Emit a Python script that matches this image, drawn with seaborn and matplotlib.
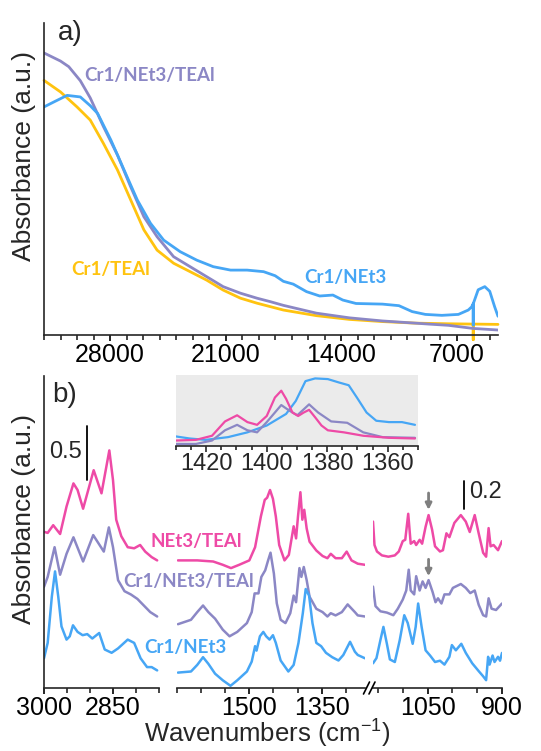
import numpy as np
import pandas as pd
import matplotlib
matplotlib.use("Agg")
import matplotlib.pyplot as plt
from matplotlib.lines import Line2D
from matplotlib.ticker import MultipleLocator, FixedLocator
import seaborn as sns

# ---------------- Panel a (UV-Vis-NIR) ----------------
a_purple_x = [32000, 31000, 30500, 29800, 29200, 28400, 27550, 26750, 25950, 25150, 24150, 23150, 22150,
              21150, 20100, 19100, 18300, 17500, 15500, 13500, 11500, 9500, 8700, 7500, 6000, 4500]
a_purple_y = [0.904, 0.878, 0.860, 0.815, 0.760, 0.668, 0.577, 0.475, 0.379, 0.315, 0.251, 0.219, 0.187,
              0.155, 0.134, 0.118, 0.107, 0.095, 0.070, 0.055, 0.045, 0.038, 0.035, 0.031, 0.021, 0.016]

a_yellow_x = [32000, 31000, 30000, 29200, 28400, 27550, 26750, 25950, 25150, 24150, 23150, 22150, 21150,
              20100, 19100, 18300, 17500, 15500, 13500, 11500, 9500, 7500, 6050, 6000, 6000, 6000, 4500]
a_yellow_y = [0.816, 0.779, 0.731, 0.689, 0.614, 0.529, 0.433, 0.337, 0.272, 0.230, 0.203, 0.176, 0.144,
              0.118, 0.102, 0.091, 0.080, 0.062, 0.050, 0.043, 0.038, 0.036, 0.035, 0.035, -0.015, 0.035, 0.034]

a_blue_x = [32000, 31400, 30600, 29800, 29200, 28750, 27950, 27150, 26350, 25550, 24750, 23750, 22750,
            21750, 20700, 19700, 18700, 18000, 17500, 16900, 16100, 15300, 14500, 13900, 13100, 11500,
            10500, 9700, 8900, 7900, 6900, 6300, 6100, 6000, 6000, 6000, 5700, 5300, 5000, 4700, 4500]
a_blue_y = [0.731, 0.747, 0.768, 0.763, 0.735, 0.710, 0.625, 0.529, 0.433, 0.358, 0.304, 0.267, 0.240,
            0.219, 0.208, 0.208, 0.203, 0.190, 0.172, 0.163, 0.139, 0.125, 0.128, 0.112, 0.101, 0.099,
            0.094, 0.075, 0.066, 0.063, 0.066, 0.080, 0.090, 0.100, 0.032, 0.100, 0.145, 0.155, 0.140, 0.090, 0.060]

a_ticks = [28000, 21000, 14000, 7000]

# ---------------- Panel b (IR), segment 1: 3000-2750 ----------------
s1_pink_x = [3000, 2992, 2980, 2965, 2951, 2936, 2927, 2915, 2892, 2875, 2858, 2850, 2843, 2832, 2818,
             2804, 2791, 2780, 2766, 2754]
s1_pink_y = [1.42, 1.41, 1.48, 1.40, 1.65, 1.86, 1.80, 1.63, 1.98, 1.77, 2.16, 1.89, 1.53, 1.38, 1.28,
             1.27, 1.30, 1.24, 1.19, 1.16]
s1_purple_x = [3000, 2992, 2977, 2965, 2951, 2936, 2915, 2893, 2870, 2859, 2850, 2839, 2825, 2811, 2797,
               2783, 2769, 2754]
s1_purple_y = [0.92, 1.01, 1.28, 1.03, 1.22, 1.37, 1.15, 1.39, 1.24, 1.46, 1.28, 0.98, 0.88, 0.85, 0.81,
               0.75, 0.69, 0.65]
s1_blue_x = [3000, 2992, 2983, 2976, 2969, 2962, 2951, 2944, 2937, 2927, 2916, 2906, 2895, 2880, 2868,
             2853, 2839, 2818, 2804, 2790, 2776, 2766, 2754]
s1_blue_y = [0.27, 0.41, 0.83, 1.06, 0.83, 0.56, 0.44, 0.47, 0.57, 0.51, 0.48, 0.49, 0.45, 0.50, 0.35,
             0.32, 0.36, 0.44, 0.41, 0.27, 0.19, 0.19, 0.16]

# ---------------- segment 2: 1650-1260 ----------------
s2_pink_x = [1648, 1608, 1575, 1555, 1538, 1521, 1500, 1488, 1476, 1468, 1463, 1457, 1451, 1445, 1438,
             1427, 1418, 1408, 1403, 1399, 1394, 1390, 1386, 1381, 1375, 1361, 1348, 1338, 1331, 1321,
             1308, 1298, 1288, 1275, 1260]
s2_pink_y = [1.16, 1.16, 1.15, 1.12, 1.09, 1.12, 1.16, 1.28, 1.56, 1.71, 1.73, 1.80, 1.72, 1.56, 1.30,
             1.16, 1.21, 1.47, 1.36, 1.56, 1.78, 1.53, 1.62, 1.45, 1.33, 1.25, 1.20, 1.18, 1.22, 1.18,
             1.18, 1.24, 1.16, 1.13, 1.12]
s2_purple_x = [1648, 1621, 1608, 1596, 1585, 1571, 1555, 1541, 1525, 1505, 1495, 1489, 1481, 1475, 1467,
               1461, 1456, 1449, 1443, 1435, 1425, 1415, 1408, 1403, 1396, 1392, 1387, 1381, 1375, 1361,
               1348, 1338, 1331, 1321, 1308, 1296, 1281, 1275, 1260]
s2_purple_y = [0.58, 0.62, 0.69, 0.75, 0.69, 0.63, 0.53, 0.47, 0.51, 0.59, 0.69, 0.86, 0.86, 1.01, 1.07,
               1.16, 1.23, 1.04, 0.77, 0.62, 0.59, 0.68, 0.84, 0.78, 1.09, 1.01, 1.10, 0.98, 0.83, 0.72,
               0.69, 0.65, 0.68, 0.66, 0.69, 0.76, 0.69, 0.66, 0.65]
s2_blue_x = [1648, 1621, 1608, 1596, 1585, 1571, 1555, 1539, 1525, 1505, 1495, 1488, 1485, 1478, 1471,
             1465, 1458, 1451, 1445, 1435, 1419, 1408, 1398, 1389, 1383, 1376, 1369, 1361, 1351, 1341,
             1328, 1315, 1305, 1291, 1281, 1275, 1260]
s2_blue_y = [0.14, 0.15, 0.21, 0.28, 0.22, 0.13, 0.07, 0.02, 0.07, 0.15, 0.24, 0.38, 0.34, 0.47, 0.51,
             0.47, 0.44, 0.48, 0.41, 0.25, 0.15, 0.21, 0.41, 0.68, 0.90, 0.84, 0.59, 0.41, 0.38, 0.32,
             0.28, 0.25, 0.30, 0.42, 0.33, 0.30, 0.27]

# ---------------- segment 3: 1160-900 ----------------
s3_pink_x = [1160, 1157, 1152, 1142, 1129, 1116, 1108, 1100, 1095, 1089, 1084, 1077, 1073, 1066, 1061,
             1054, 1048, 1041, 1035, 1025, 1019, 1012, 1006, 996, 983, 973, 965, 955, 947, 938, 932, 927,
             923, 917, 908, 900]
s3_pink_y = [1.28, 1.10, 1.05, 1.02, 1.01, 1.02, 1.05, 1.13, 1.14, 1.34, 1.11, 1.13, 1.10, 1.14, 1.11,
             1.24, 1.33, 1.22, 1.09, 1.05, 1.06, 1.19, 1.16, 1.27, 1.33, 1.28, 1.20, 1.33, 1.19, 1.04,
             1.01, 1.23, 1.09, 1.10, 1.06, 1.13]
s3_purple_x = [1160, 1155, 1145, 1132, 1119, 1110, 1100, 1093, 1088, 1084, 1077, 1073, 1066, 1060, 1054,
               1048, 1040, 1034, 1029, 1022, 1016, 1006, 999, 983, 973, 964, 955, 947, 938, 932, 927,
               921, 912, 900]
s3_purple_y = [0.78, 0.63, 0.59, 0.58, 0.56, 0.61, 0.68, 0.75, 0.91, 0.75, 0.72, 0.86, 0.75, 0.82, 0.77,
               0.83, 0.74, 0.66, 0.69, 0.65, 0.72, 0.72, 0.77, 0.80, 0.77, 0.73, 0.75, 0.64, 0.56, 0.55,
               0.69, 0.61, 0.60, 0.65]
s3_blue_x = [1160, 1153, 1145, 1139, 1132, 1126, 1116, 1106, 1097, 1090, 1080, 1074, 1069, 1062, 1054,
             1045, 1035, 1025, 1016, 1006, 1001, 993, 982, 973, 960, 947, 938, 932, 928, 925, 919, 915,
             908, 904, 900]
s3_blue_y = [0.19, 0.23, 0.37, 0.47, 0.34, 0.22, 0.20, 0.37, 0.56, 0.50, 0.34, 0.47, 0.65, 0.47, 0.29,
             0.25, 0.20, 0.21, 0.18, 0.24, 0.33, 0.29, 0.34, 0.27, 0.19, 0.13, 0.09, 0.06, 0.24, 0.18,
             0.25, 0.20, 0.24, 0.21, 0.27]

# ---------------- inset: 1430-1350 (normalised) ----------------
in_pink_x = [1430, 1423.4, 1418.1, 1413.8, 1409.8, 1406.4, 1403.2, 1400, 1397.3, 1395.2, 1393.6, 1391.5,
             1389.6, 1387.8, 1386, 1384, 1381.9, 1379.8, 1374.5, 1368.1, 1359.6, 1351]
in_pink_y = [0.08, 0.09, 0.15, 0.36, 0.45, 0.35, 0.31, 0.44, 0.71, 0.81, 0.69, 0.49, 0.44, 0.49, 0.53,
             0.42, 0.30, 0.23, 0.20, 0.15, 0.12, 0.11]
in_purple_x = [1430, 1423.4, 1418.1, 1413.8, 1409.8, 1406.4, 1403.2, 1400, 1395.2, 1392.6, 1389.9, 1386,
               1383, 1378.7, 1373.4, 1368.1, 1361.7, 1351]
in_purple_y = [0.03, 0.03, 0.08, 0.23, 0.31, 0.23, 0.20, 0.35, 0.60, 0.52, 0.45, 0.61, 0.49, 0.36, 0.34,
               0.20, 0.13, 0.12]
in_blue_x = [1430, 1425.5, 1420.2, 1412.8, 1406.4, 1400, 1393.6, 1390.4, 1387.2, 1384, 1379.8, 1376.1,
             1372.9, 1370.2, 1367, 1363.8, 1359.6, 1355.3, 1351]
in_blue_y = [0.14, 0.11, 0.09, 0.13, 0.20, 0.30, 0.47, 0.66, 0.95, 0.99, 0.98, 0.93, 0.89, 0.71, 0.49,
             0.37, 0.35, 0.35, 0.31]
in_ticks = [1420, 1400, 1380, 1360]

PINK = "#EE4AA6"
PURPLE = "#8B87C5"
BLUE = "#46A6F5"
YELLOW = "#FFC30F"
GREY = "#7F7F7F"

sns.set_style("ticks")
plt.rcParams["font.family"] = ["Liberation Sans", "DejaVu Sans"]
plt.rcParams["mathtext.fontset"] = "custom"
plt.rcParams["mathtext.rm"] = "Liberation Sans"
plt.rcParams["mathtext.it"] = "Liberation Sans:italic"
plt.rcParams["axes.linewidth"] = 1.2

W, H = 541, 751
fig = plt.figure(figsize=(W / 100, H / 100), dpi=100)


def box(l, t, r, b):
    return [l / W, 1 - b / H, (r - l) / W, (b - t) / H]


def fx(px):
    return px / W


def fy(py):
    return 1 - py / H


def draw(ax, x, y, color, lw):
    df = pd.DataFrame({"x": x, "y": y})
    sns.lineplot(data=df, x="x", y="y", ax=ax, color=color, lw=lw, sort=False, estimator=None)
    return ax.lines[-1]


def style(ax, left=True, fs=18):
    for s in ["top", "right"]:
        ax.spines[s].set_visible(False)
    ax.spines["left"].set_visible(left)
    ax.tick_params(axis="y", left=False, labelleft=False)
    ax.tick_params(axis="x", which="major", direction="out", length=4.5, width=1.2,
                   labelsize=fs, pad=1, colors="black")
    ax.tick_params(axis="x", which="minor", direction="out", length=3.5, width=1.2)
    ax.set_xlabel("")
    ax.set_ylabel("")
    ax.set_facecolor("none")


# ---------- panel a ----------
ax_a = fig.add_axes(box(44, 23, 498, 335))
draw(ax_a, a_yellow_x, a_yellow_y, YELLOW, 2.0).set_clip_on(False)
draw(ax_a, a_purple_x, a_purple_y, PURPLE, 2.0)
draw(ax_a, a_blue_x, a_blue_y, BLUE, 2.0)
ax_a.set_xlim(32000, 4500)
ax_a.set_ylim(0, 1)
style(ax_a)
ax_a.xaxis.set_major_locator(FixedLocator(a_ticks))
ax_a.xaxis.set_minor_locator(MultipleLocator(1000))
ax_a.set_ylabel("Absorbance (a.u.)", fontsize=19)
ax_a.yaxis.set_label_coords(-0.018, 0.574)

lab = dict(fontfamily=["Lato", "DejaVu Sans"], fontweight="bold", fontsize=13.5, va="center", ha="left")
fig.text(fx(84), fy(75), "Cr1/NEt3/TEAl", color=PURPLE, **lab)
fig.text(fx(71), fy(270), "Cr1/TEAl", color=YELLOW, **lab)
fig.text(fx(304), fy(277), "Cr1/NEt3", color=BLUE, **lab)
fig.text(fx(58), fy(33), "a)", fontsize=20, va="center", ha="left")

# ---------- panel b ----------
yl12 = 312 / 110
yl3 = 312 / 130

ax1 = fig.add_axes(box(44, 376, 159, 688))
draw(ax1, s1_pink_x, s1_pink_y, PINK, 1.8)
draw(ax1, s1_purple_x, s1_purple_y, PURPLE, 1.8)
draw(ax1, s1_blue_x, s1_blue_y, BLUE, 1.8)
ax1.set_xlim(3000, 2750)
ax1.set_ylim(0, yl12)
style(ax1)
ax1.xaxis.set_major_locator(FixedLocator([3000, 2850]))
ax1.xaxis.set_minor_locator(MultipleLocator(50))
ax1.set_ylabel("Absorbance (a.u.)", fontsize=19)
ax1.yaxis.set_label_coords(-0.07, 0.542)
ax1.plot([2907, 2907], [1.89, 2.38], color="black", lw=1.3)
ax1.text(2917, 2.15, "0.5", fontsize=17, ha="right", va="center")

ax2 = fig.add_axes(box(177, 376, 365, 688))
draw(ax2, s2_pink_x, s2_pink_y, PINK, 1.8)
draw(ax2, s2_purple_x, s2_purple_y, PURPLE, 1.8)
draw(ax2, s2_blue_x, s2_blue_y, BLUE, 1.8)
ax2.set_xlim(1650, 1260)
ax2.set_ylim(0, yl12)
style(ax2, left=False)
ax2.xaxis.set_major_locator(FixedLocator([1500, 1350]))
ax2.xaxis.set_minor_locator(MultipleLocator(50))

ax3 = fig.add_axes(box(373, 376, 502, 688))
draw(ax3, s3_pink_x, s3_pink_y, PINK, 1.8)
draw(ax3, s3_purple_x, s3_purple_y, PURPLE, 1.8)
draw(ax3, s3_blue_x, s3_blue_y, BLUE, 1.8)
ax3.set_xlim(1160, 900)
ax3.set_ylim(0, yl3)
style(ax3, left=False)
ax3.xaxis.set_major_locator(FixedLocator([1050, 900]))
ax3.xaxis.set_minor_locator(MultipleLocator(50))
ax3.plot([977, 977], [1.38, 1.59], color="black", lw=1.3)
ax3.text(966, 1.51, "0.2", fontsize=17, ha="left", va="center")
for y0, y1 in [(1.50, 1.37), (0.99, 0.86)]:
    ax3.annotate("", xy=(1048, y1), xytext=(1048, y0),
                 arrowprops=dict(arrowstyle="-|>", color=GREY, lw=2.0, mutation_scale=9,
                                 shrinkA=0, shrinkB=0))

# break marks
for xc in (366.5, 372):
    fig.add_artist(Line2D([fx(xc - 3), fx(xc + 3)], [fy(694), fy(682)], color="black", lw=1.2))

fig.text(fx(150), fy(542), "NEt3/TEAl", color=PINK, **lab)
fig.text(fx(123), fy(581), "Cr1/NEt3/TEAl", color=PURPLE, **lab)
fig.text(fx(144), fy(647), "Cr1/NEt3", color=BLUE, **lab)
fig.text(fx(52), fy(395), "b)", fontsize=20, va="center", ha="left")
fig.text(fx(267), fy(734), "Wavenumbers (cm$^{-1}$)", fontsize=18.5, ha="center", va="center")

# ---------- inset ----------
axi = fig.add_axes(box(176, 375, 418, 446))
axi.set_facecolor("#EBEBEB")
draw(axi, in_blue_x, in_blue_y, BLUE, 1.6)
draw(axi, in_purple_x, in_purple_y, PURPLE, 1.6)
draw(axi, in_pink_x, in_pink_y, PINK, 1.6)
axi.set_xlim(1430, 1350)
axi.set_ylim(0, 1.04)
for s in ["top", "right", "left"]:
    axi.spines[s].set_visible(False)
axi.tick_params(axis="y", left=False, labelleft=False)
axi.tick_params(axis="x", which="major", direction="out", length=4, width=1.2, labelsize=17, pad=1)
axi.tick_params(axis="x", which="minor", direction="out", length=3, width=1.2)
axi.xaxis.set_major_locator(FixedLocator(in_ticks))
axi.xaxis.set_minor_locator(MultipleLocator(5))
axi.set_xlabel("")
axi.set_ylabel("")

fig.savefig("out.png", dpi=100)
